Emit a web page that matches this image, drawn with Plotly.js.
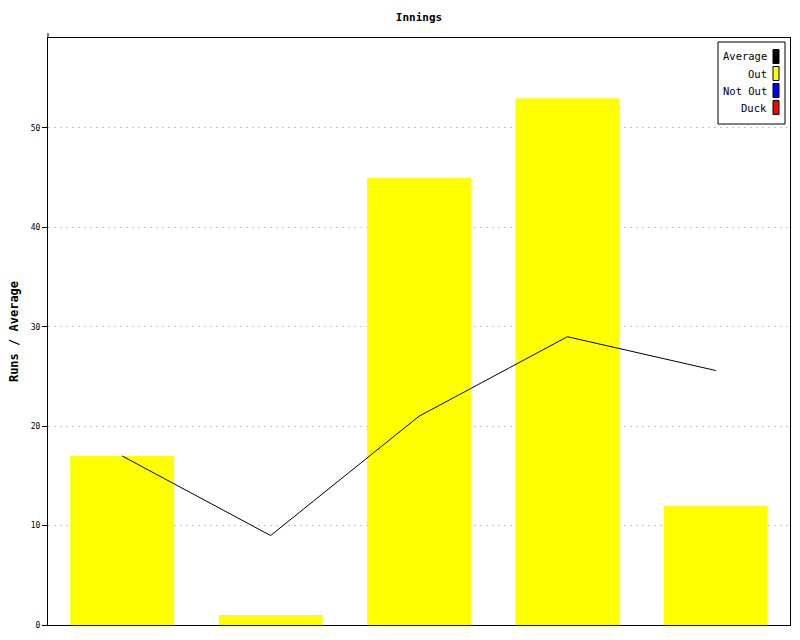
<!DOCTYPE html>
<html>
<head>
<meta charset="utf-8">
<script src="https://cdn.plot.ly/plotly-3.0.1.min.js"></script>
<style>html,body{margin:0;padding:0;background:#fff;}#chart{width:800px;height:640px;}</style>
</head>
<body>
<div id="chart"></div>
<script>
const innings = [1, 2, 3, 4, 5];
const runsOut = [17, 1, 45, 53, 12];
const average = [17, 9, 21, 29, 25.6];
const legendNames = ["Average", "Out", "Not Out", "Duck"];
const legendColors = ["#000000", "#ffff00", "#0000ff", "#ff0000"];
const yTicks = [0, 10, 20, 30, 40, 50];

const FONT = "DejaVu Sans Mono, Liberation Mono, monospace";

const traces = [
  {type: "bar", x: innings, y: runsOut, name: "Out", marker: {color: "#ffff00", line: {width: 0}}, width: 0.7, hoverinfo: "skip"},
  {type: "scatter", mode: "lines", x: innings, y: average, name: "Average", line: {color: "#000000", width: 1}, hoverinfo: "skip"}
];

// custom legend (text left of swatch), in paper coordinates
const shapes = [];
const annotations = [];
const pw = 742, ph = 587; // plot area px
const py = v => v / ph;
const bx0 = (718 - 48) / pw, bx1 = (785 - 48) / pw;
const by0 = 1 - (124 - 38) / ph, by1 = 1 - (42 - 38) / ph;
shapes.push({type: "rect", xref: "paper", yref: "paper", x0: bx0, x1: bx1, y0: by0, y1: by1, line: {color: "#000", width: 1}, fillcolor: "#fff", layer: "above"});
legendNames.forEach((name, i) => {
  const cy = 56.5 + i * 17;
  const yc = 1 - (cy - 38) / ph;
  shapes.push({type: "rect", xref: "paper", yref: "paper",
    x0: (773 - 48) / pw, x1: (779 - 48) / pw,
    y0: yc - py(7), y1: yc + py(7),
    line: {color: "#000", width: 1}, fillcolor: legendColors[i], layer: "above"});
  annotations.push({xref: "paper", yref: "paper", x: (768 - 48) / pw, y: yc, xanchor: "right", yanchor: "middle",
    text: name, showarrow: false, borderpad: 0, font: {family: FONT, size: 10.5, color: "#000"}});
});
shapes.push({type: "line", xref: "paper", yref: "paper", x0: 0, x1: 0, y0: 1, y1: 1 + py(5), line: {color: "#000", width: 1}});

const layout = {
  width: 800, height: 640,
  margin: {l: 48, r: 10, t: 38, b: 15, pad: 0},
  paper_bgcolor: "#fff", plot_bgcolor: "#fff",
  showlegend: false,
  title: {text: "<b>Innings</b>", font: {family: FONT, size: 11, color: "#000"}, x: 0.5, xref: "paper", xanchor: "center", y: 1 - 17 / 640, yref: "container", yanchor: "middle"},
  xaxis: {range: [0.5, 5.5], showticklabels: false, ticks: "", showgrid: false, zeroline: false,
    showline: true, linecolor: "#000", linewidth: 1, mirror: true, fixedrange: true},
  yaxis: {range: [0, 59.05], tickvals: yTicks, ticktext: yTicks.map(String), ticks: "outside", ticklen: 5, tickcolor: "#000",
    tickfont: {family: FONT, size: 8, color: "#000"}, showgrid: true, gridcolor: "#c8c8c8", griddash: "2px,4px", gridwidth: 1,
    zeroline: false, showline: true, linecolor: "#000", linewidth: 1, mirror: true,
    title: {text: "<b>Runs / Average</b>", font: {family: FONT, size: 12, color: "#000"}, standoff: 9}},
  shapes: shapes,
  annotations: annotations
};

Plotly.newPlot("chart", traces, layout, {displayModeBar: false, staticPlot: true});
</script>
</body>
</html>
